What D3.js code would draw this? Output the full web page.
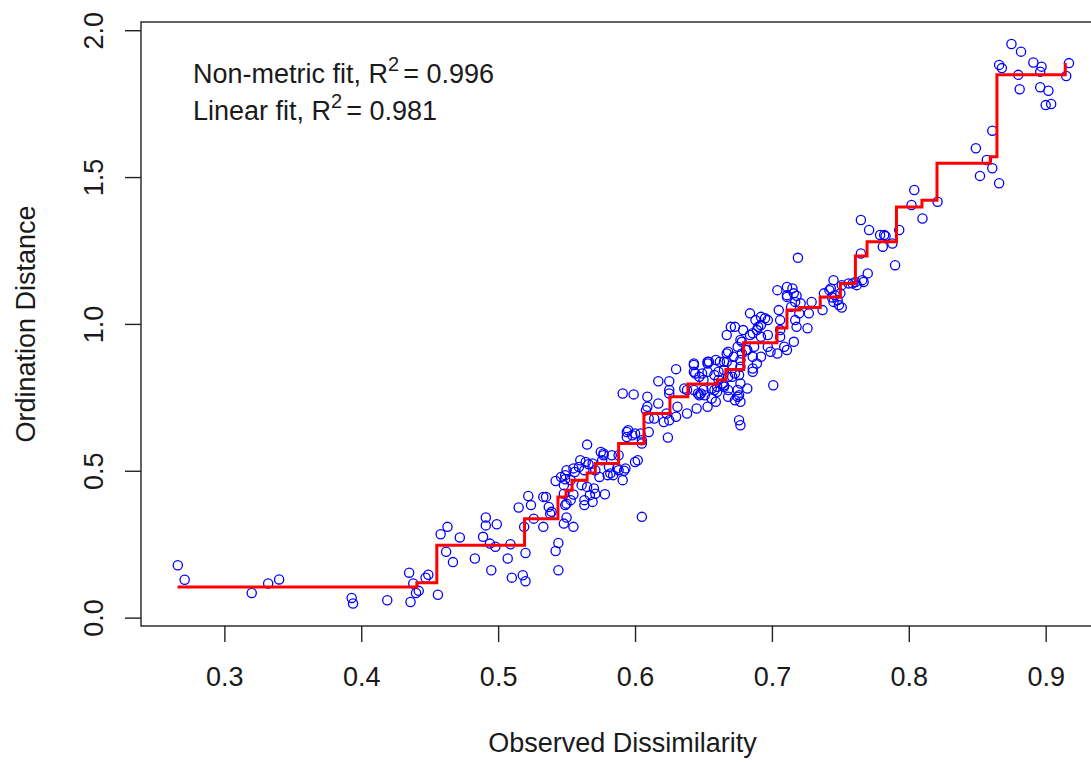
<!DOCTYPE html>
<html>
<head>
<meta charset="utf-8">
<script src="https://cdn.jsdelivr.net/npm/d3@7"></script>
<style>
  body { margin: 0; background: #fff; }
  text { font-family: "Liberation Sans", Arial, sans-serif; fill: #1a1a1a; }
</style>
</head>
<body>
<div id="chart"></div>
<script>
const width = 1091
const height = 763

// plot region (R leaves 4% padding on each side, right edge falls off the canvas)
const plot = {left: 141, right: 1104, top: 22, bottom: 626}

const xTicks = [0.3, 0.4, 0.5, 0.6, 0.7, 0.8, 0.9]
const yTicks = [0.0, 0.5, 1.0, 1.5, 2.0]

// observed dissimilarity vs ordination distance
const dissim = [
  0.266,0.271,0.320,0.332,0.340,0.393,0.394,0.419,0.435,0.436,
  0.438,0.440,0.442,0.447,0.449,0.456,0.458,0.463,0.462,0.467,
  0.472,0.483,0.489,0.491,0.494,0.498,0.495,0.499,0.509,0.507,
  0.510,0.518,0.520,0.520,0.519,0.533,0.542,0.544,0.544,0.548,
  0.555,
  0.491,0.515,0.522,0.524,0.526,0.533,0.537,0.539,0.550,
  0.542,0.546,0.549,0.550,0.556,0.559,0.560,0.564,0.566,0.569,
  0.548,0.550,0.555,0.563,0.563,0.567,0.570,0.565,0.561,0.578,
  0.565,0.575,0.577,0.576,0.581,0.584,0.592,0.587,0.580,0.574,
  0.600,0.595,0.594,0.600,0.605,
  0.555,0.563,0.571,0.549,0.553,0.548,0.582,0.588,0.593,0.591,
  0.571,0.569,0.535,0.538,0.549,0.553,0.598,0.605,
  0.673,0.667,0.668,0.667,0.672,0.675,0.653,0.643,0.644,0.630,
  0.653,0.661,0.647,0.650,0.617,0.625,0.591,0.599,0.609,0.625,
  0.636,0.617,0.609,0.608,0.631,0.638,0.645,0.653,0.659,0.643,
  0.648,0.656,0.660,0.665,0.668,0.673,0.675,0.623,0.625,0.630,
  0.621,0.614,0.610,0.594,0.604,0.610,0.605,0.624,0.577,0.583,
  0.588,0.602,0.676,0.677,
  0.692,0.697,0.684,0.689,0.692,0.678,0.681,0.687,0.697,0.665,
  0.671,0.677,0.673,0.689,0.686,0.654,0.649,0.661,0.665,0.660,
  0.646,0.651,0.656,0.668,0.682,0.675,0.677,0.625,
  0.765,0.771,0.779,0.719,0.770,0.766,0.759,0.762,0.745,0.742,
  0.746,0.748,0.745,0.751,0.749,0.744,0.737,0.729,0.727,0.726,
  0.718,0.717,0.720,0.705,0.706,0.704,0.711,0.715,0.711,0.717,
  0.714,0.721,0.684,0.688,0.695,0.690,0.686,0.692,0.697,0.706,
  0.670,0.677,0.682,0.678,0.686,0.692,0.699,0.704,0.709,0.711,
  0.716,0.706,0.667,0.662,0.665,0.659,0.653,0.643,0.643,0.658,
  0.664,0.671,0.677,0.676,0.686,0.668,0.676,0.701,0.650,0.638,
  0.647,0.658,0.677,0.679,
  0.804,0.802,0.810,0.821,0.782,0.783,0.793,0.781,0.788,0.790,
  0.765,0.767,0.761,0.756,0.751,0.743,0.738,0.750,0.716,0.711,0.718,
  0.875,0.882,0.891,0.866,0.868,0.897,0.896,0.880,0.917,0.915,
  0.881,0.896,0.902,0.900,0.904,0.861,0.849,0.857,0.861,0.852,0.866
]
const ordDist = [
  0.178,0.129,0.084,0.116,0.130,0.067,0.048,0.059,0.153,0.053,
  0.116,0.084,0.091,0.136,0.146,0.078,0.284,0.309,0.224,0.189,
  0.273,0.201,0.275,0.314,0.252,0.241,0.161,0.318,0.250,0.201,
  0.136,0.144,0.124,0.220,0.309,0.309,0.227,0.254,0.161,0.320,
  0.309,
  0.341,0.375,0.414,0.383,0.337,0.411,0.377,0.360,0.341,
  0.465,0.479,0.471,0.502,0.496,0.513,0.536,0.530,0.522,0.525,
  0.422,0.388,0.419,0.400,0.383,0.417,0.440,0.445,0.451,0.420,
  0.589,0.564,0.559,0.536,0.513,0.485,0.500,0.508,0.485,0.479,
  0.530,0.638,0.615,0.627,0.343,
  0.508,0.502,0.502,0.485,0.468,0.451,0.491,0.502,0.508,0.468,
  0.422,0.394,0.411,0.354,0.383,0.400,0.621,0.593,
  0.990,0.962,0.905,0.871,0.888,0.922,0.871,0.860,0.831,0.846,
  0.837,0.837,0.820,0.809,0.805,0.805,0.763,0.760,0.752,0.763,
  0.780,0.729,0.718,0.706,0.718,0.695,0.712,0.718,0.735,0.775,
  0.763,0.780,0.786,0.791,0.820,0.740,0.775,0.695,0.672,0.684,
  0.666,0.678,0.678,0.632,0.627,0.632,0.604,0.613,0.553,0.553,
  0.553,0.536,0.672,0.655,
  1.024,1.013,0.962,0.979,0.996,0.939,0.911,0.922,0.922,0.871,
  0.860,0.877,0.831,0.865,0.848,0.871,0.831,0.809,0.786,0.769,
  0.763,0.757,0.746,0.752,0.780,0.752,0.735,0.775,
  1.354,1.320,1.303,1.225,1.172,1.149,1.138,1.132,1.149,1.115,
  1.098,1.081,1.075,1.056,1.064,1.090,1.047,1.075,1.036,0.985,
  0.990,1.013,1.036,1.047,1.013,1.115,1.126,1.121,1.092,1.075,
  1.058,1.070,1.036,1.013,1.019,0.990,0.968,0.956,0.962,0.979,
  0.990,0.945,0.911,0.899,0.888,0.888,0.905,0.899,0.922,0.911,
  0.939,0.956,0.899,0.871,0.843,0.877,0.865,0.865,0.837,0.826,
  0.797,0.820,0.797,0.826,0.837,0.775,0.757,0.791,0.775,0.775,
  0.757,0.775,0.854,0.979,
  1.456,1.405,1.359,1.416,1.303,1.299,1.320,1.263,1.274,1.200,
  1.240,1.143,1.143,1.138,1.132,1.121,1.104,1.104,1.104,1.098,1.096,
  1.953,1.927,1.890,1.882,1.871,1.876,1.859,1.848,1.888,1.844,
  1.799,1.806,1.794,1.745,1.749,1.658,1.598,1.558,1.530,1.504,1.479
]

// monotone (non-metric) fit, drawn as a step line
const stepDissim = [0.2658,0.4406,0.4552,0.5193,0.5437,0.5496,0.554,0.565,0.571,0.588,
  0.6065,0.6255,0.6386,0.66,0.6664,0.6793,0.7037,0.711,0.7205,0.7353,
  0.75,0.761,0.7695,0.791,0.8096,0.8206,0.8595,0.8644,0.9143]
const stepFit = [0.104,0.119,0.246,0.337,0.411,0.434,0.468,0.492,0.525,0.593,
  0.695,0.752,0.795,0.809,0.845,0.936,0.986,1.047,1.056,1.092,
  1.138,1.231,1.28,1.398,1.421,1.547,1.569,1.848,1.888]

const fitLabels = [
  {name: "Non-metric fit, R", r2: "0.996"},
  {name: "Linear fit, R", r2: "0.981"}
]

const x = d3.scaleLinear().domain([0.2391, 0.9426]).range([plot.left, plot.right])
const y = d3.scaleLinear().domain([-0.0286, 2.028]).range([plot.bottom, plot.top])

const svg = d3.select("#chart")
  .append("svg")
    .attr("width", width)
    .attr("height", height)
    .style("background", "#fff")

// box round the plot
svg.append("rect")
  .attr("x", plot.left)
  .attr("y", plot.top)
  .attr("width", plot.right - plot.left)
  .attr("height", plot.bottom - plot.top)
  .attr("fill", "none")
  .attr("stroke", "#222")
  .attr("stroke-width", 1.4)

// x axis
const gx = svg.append("g")
  .attr("transform", `translate(0,${plot.bottom})`)
  .call(d3.axisBottom(x).tickValues(xTicks).tickSize(16).tickPadding(25).tickFormat(d3.format(".1f")))
gx.select(".domain").remove()
gx.selectAll("line").attr("stroke", "#222").attr("stroke-width", 1.4)
gx.selectAll("text").attr("font-size", 27).attr("fill", "#1a1a1a")
  .style("font-family", '"Liberation Sans", Arial, sans-serif')

// y axis, labels turned like R does (las = 0)
const gy = svg.append("g")
  .attr("transform", `translate(${plot.left},0)`)
  .call(d3.axisLeft(y).tickValues(yTicks).tickSize(16).tickFormat(d3.format(".1f")))
gy.select(".domain").remove()
gy.selectAll("line").attr("stroke", "#222").attr("stroke-width", 1.4)
gy.selectAll("text")
  .attr("font-size", 27).attr("fill", "#1a1a1a")
  .style("font-family", '"Liberation Sans", Arial, sans-serif')
  .attr("text-anchor", "middle")
  .attr("transform", "rotate(-90)")
  .attr("x", 0)
  .attr("y", -38)
  .attr("dy", null)

// points
svg.append("g")
  .selectAll("circle")
  .data(d3.range(dissim.length))
  .enter()
  .append("circle")
    .attr("cx", i => x(dissim[i]))
    .attr("cy", i => y(ordDist[i]))
    .attr("r", 4.6)
    .attr("fill", "none")
    .attr("stroke", "#0000ff")
    .attr("stroke-width", 1.3)

// step line on top
const stepLine = d3.line()
  .x(i => x(stepDissim[i]))
  .y(i => y(stepFit[i]))
  .curve(d3.curveStepAfter)

svg.append("path")
  .datum(d3.range(stepDissim.length))
  .attr("d", stepLine)
  .attr("fill", "none")
  .attr("stroke", "#ff0000")
  .attr("stroke-width", 3)

// fit statistics
const note = svg.append("g")
  .attr("transform", `translate(${plot.left + 52},${plot.top})`)
const noteText = note.selectAll("text")
  .data(fitLabels)
  .enter()
  .append("text")
    .attr("x", 0)
    .attr("y", (d, i) => 61 + i * 37)
    .attr("font-size", 27)
noteText.append("tspan").text(d => d.name)
noteText.append("tspan")
  .attr("font-size", 20)
  .attr("dy", -12)
  .text("2")
noteText.append("tspan")
  .attr("dy", 12)
  .attr("dx", 4)
  .text(d => "= " + d.r2)

// axis titles
svg.append("text")
  .attr("x", (plot.left + plot.right) / 2)
  .attr("y", 752)
  .attr("text-anchor", "middle")
  .attr("font-size", 27)
  .text("Observed Dissimilarity")

svg.append("text")
  .attr("transform", `translate(35,${(plot.top + plot.bottom) / 2}) rotate(-90)`)
  .attr("text-anchor", "middle")
  .attr("font-size", 27)
  .text("Ordination Distance")
</script>
</body>
</html>
